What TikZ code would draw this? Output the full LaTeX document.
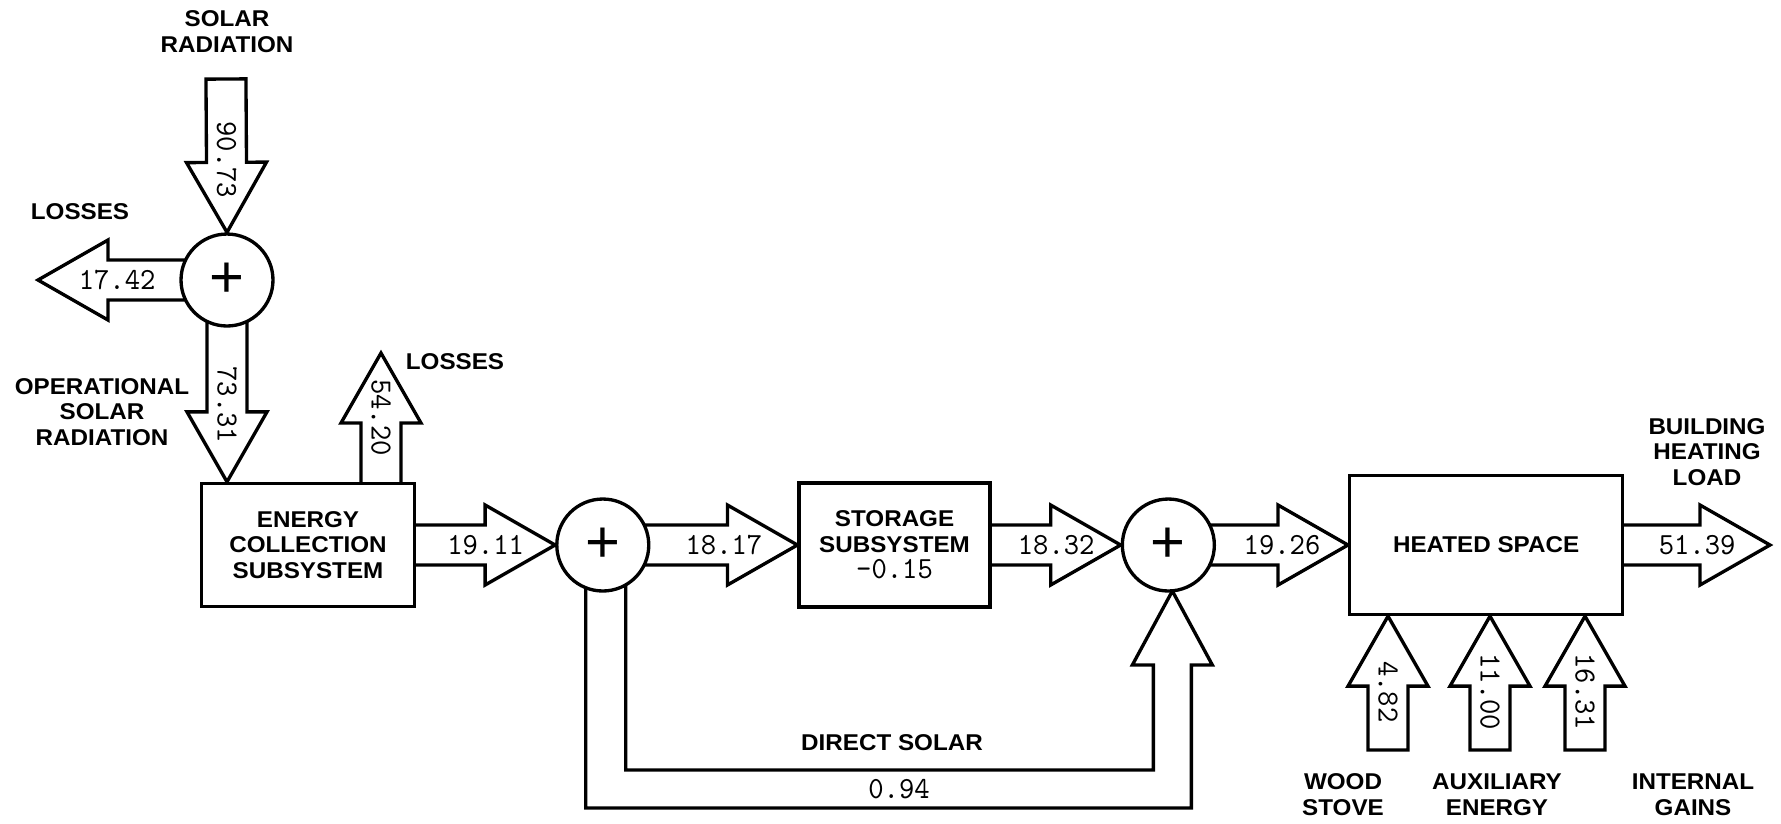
\documentclass[tikz,border=0pt]{standalone}
\usepackage{fontspec}
\setmainfont{Liberation Sans}
\newfontfamily\lblfont[FakeStretch=1.06]{Liberation Sans}
\newfontfamily\numfont[FakeStretch=0.95]{lmmono10-regular.otf}
\usetikzlibrary{positioning, calc, backgrounds}

\newcommand{\numsize}{\fontsize{17.5pt}{21pt}\selectfont}
\newcommand{\shafthw}{0.4cm}
\newcommand{\headhw}{0.8cm}
\newcommand{\headlen}{1.4cm}

% fat hollow arrow: [label pos]{name}{from}{to}{label rotation}{label}
\newcommand{\fatarrow}[6][0.5]{%
  \coordinate (#2-a) at #3;
  \coordinate (#2-b) at #4;
  \coordinate (#2-t) at ($(#2-a)!-0.16cm!(#2-b)$);
  \coordinate (#2-h) at ($(#2-b)!\headlen!(#2-a)$);
  \draw[fatline] ($(#2-t)!\shafthw!90:(#2-b)$) -- ($(#2-h)!\shafthw!-90:(#2-a)$)
    -- ($(#2-h)!\headhw!-90:(#2-a)$) -- (#2-b) -- ($(#2-h)!\headhw!90:(#2-a)$)
    -- ($(#2-h)!\shafthw!90:(#2-a)$) -- ($(#2-t)!\shafthw!-90:(#2-b)$) -- cycle;
  \node[num, rotate=#5] (#2-n) at ($(#2-a)!#1!(#2-b)$) {#6};
}

\begin{document}
\begin{tikzpicture}[
    x=0.02cm, y=-0.02cm,
    line width=1.9pt,
    fatline/.style={draw, fill=white, line width=1.9pt, line join=miter},
    num/.style={font=\numfont\numsize, inner sep=0pt},
    lbl/.style={font=\lblfont\bfseries\fontsize{13pt}{14.7pt}\selectfont, align=center, inner sep=0pt},
    blk/.style={draw, fill=white, align=center, inner sep=0pt,
        font=\lblfont\bfseries\fontsize{13pt}{14.7pt}\selectfont},
    sum/.style={circle, draw, fill=white, minimum size=1.84cm, inner sep=0pt,
        font=\fontsize{34pt}{34pt}\selectfont}
]
    \useasboundingbox (0,0) rectangle (1781,823);

    % blocks
    \node[sum] (c1) at (227,280) {+};
    \node[blk, minimum width=4.26cm, minimum height=2.46cm] (ecs) at (308,545) {ENERGY\\COLLECTION\\SUBSYSTEM};
    \node[sum, right=2.78cm of ecs] (c2) {+};
    \node[blk, minimum width=3.82cm, minimum height=2.48cm, right=2.94cm of c2] (sto) {STORAGE\\SUBSYSTEM\\{\numfont\numsize -0.15}};
    \node[sum, right=2.58cm of sto] (c3) {+};
    \node[blk, minimum width=5.46cm, minimum height=2.78cm, right=2.64cm of c3] (hs) {HEATED SPACE};

    % free ends
    \coordinate (solar) at (226,87);
    \coordinate (loss1) at (38,280);
    \coordinate (loss2) at (381,353);
    \coordinate (load) at (1770,545);
    \coordinate (wood) at (1388,742);
    \coordinate (aux) at (1490,742);
    \coordinate (gain) at (1585,742);

    % flows
    \begin{scope}[on background layer]
    \fatarrow{f-sol}{(solar)}{(c1.north)}{-90}{90.73}
    \fatarrow{f-op}{(c1.south)}{(c1.south |- ecs.north)}{-90}{73.31}
    \fatarrow[0.44]{f-l1}{(c1.west)}{(loss1)}{0}{17.42}
    \fatarrow{f-l2}{(loss2 |- ecs.north)}{(loss2)}{-90}{54.20}
    \fatarrow{f-ecs}{(ecs.east)}{(c2.west)}{0}{19.11}
    \fatarrow{f-c2}{(c2.east)}{(sto.west)}{0}{18.17}
    \fatarrow{f-sto}{(sto.east)}{(c3.west)}{0}{18.32}
    \fatarrow{f-c3}{(c3.east)}{(hs.west)}{0}{19.26}
    \fatarrow{f-load}{(hs.east)}{(load)}{0}{51.39}
    \fatarrow[0.4]{f-wood}{(wood)}{(wood |- hs.south)}{-90}{4.82}
    \fatarrow[0.4]{f-aux}{(aux)}{(aux |- hs.south)}{-90}{11.00}
    \fatarrow[0.4]{f-gain}{(gain)}{(gain |- hs.south)}{-90}{16.31}
    % direct solar bypass
    \draw[fatline] ($(c2.center)+(-17,0)$) -- ($(c2.center)+(-17,263)$)
        -- ($(c3.center)+(23,263)$) -- ($(c3.center)+(23,120)$)
        -- ($(c3.center)+(44,120)$) -- ($(c3.center)+(4,46)$)
        -- ($(c3.center)+(-36,120)$) -- ($(c3.center)+(-15,120)$)
        -- ($(c3.center)+(-15,225)$) -- ($(c2.center)+(23,225)$)
        -- ($(c2.center)+(23,0)$) -- cycle;
    \end{scope}
    \node[num] (n-direct) at (899,789) {0.94};

    % labels
    \node[lbl] (l-solar) at (227,32) {SOLAR\\RADIATION};
    \node[lbl] (l-loss1) at (80,212) {LOSSES};
    \node[lbl] (l-oper) at (102,412) {OPERATIONAL\\SOLAR\\RADIATION};
    \node[lbl] (l-loss2) at (455,362) {LOSSES};
    \node[lbl] (l-direct) at (892,743) {DIRECT SOLAR};
    \node[lbl] (l-load) at (1707,452) {BUILDING\\HEATING\\LOAD};
    \node[lbl] (l-wood) at (1343,795) {WOOD\\STOVE};
    \node[lbl] (l-aux) at (1497,795) {AUXILIARY\\ENERGY};
    \node[lbl] (l-gain) at (1693,795) {INTERNAL\\GAINS};
\end{tikzpicture}
\end{document}
